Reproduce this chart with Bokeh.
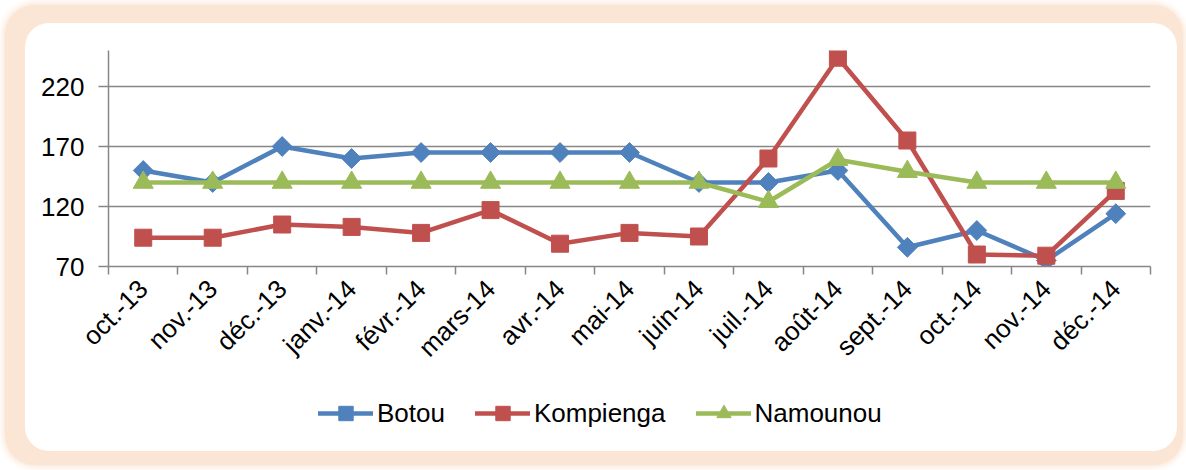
import numpy as np
from bokeh.plotting import figure
from bokeh.models import Range1d, FixedTicker, Legend, LegendItem
from bokeh.layouts import column
from bokeh.embed import file_html
from bokeh.resources import INLINE

months = ["oct.-13", "nov.-13", "déc.-13", "janv.-14", "févr.-14", "mars-14", "avr.-14",
          "mai-14", "juin-14", "juil.-14", "août-14", "sept.-14", "oct.-14", "nov.-14", "déc.-14"]
botou = [150, 140, 170, 160, 165, 165, 165, 165, 140, 140, 150, 86, 100, 75, 114]
kompienga = [94, 94, 105, 103, 98, 117, 89, 98, 95, 160, 244, 175, 80, 79, 133]
namounou = [140, 140, 140, 140, 140, 140, 140, 140, 140, 124, 159, 149, 140, 140, 140]
y_ticks = [70, 120, 170, 220]
y_min, y_max = 70, 250

xs = list(range(len(months)))
FONT = "Liberation Sans"
GRAY = "#868686"
FS = "26px"

series = [
    ("Botou", botou, "#4F81BD", "square", 14, np.pi / 4),
    ("Kompienga", kompienga, "#C0504D", "square", 17, 0),
    ("Namounou", namounou, "#9BBB59", "triangle", 20, 0),
]

# ---- main chart ----
p = figure(width=1152, height=360, output_backend="svg", toolbar_location=None,
           x_range=Range1d(-0.5, len(months) - 0.5), y_range=Range1d(y_min, y_max),
           min_border_left=83, min_border_right=27, min_border_top=27, min_border_bottom=117)
p.background_fill_color = None
p.border_fill_color = None
p.outline_line_color = None

p.xaxis.ticker = FixedTicker(ticks=xs, minor_ticks=[i - 0.5 for i in range(len(months) + 1)])
p.xaxis.major_label_overrides = {i: m for i, m in enumerate(months)}
p.xaxis.major_label_orientation = np.pi / 4
p.xaxis.major_tick_in = 0
p.xaxis.major_tick_out = 0
p.xaxis.minor_tick_in = 0
p.xaxis.minor_tick_out = 8
p.xaxis.minor_tick_line_color = GRAY
p.xaxis.minor_tick_line_width = 1.5
p.xaxis.major_label_standoff = 10

p.yaxis.ticker = FixedTicker(ticks=y_ticks)
p.yaxis.major_tick_in = 0
p.yaxis.major_tick_out = 10
p.yaxis.minor_tick_line_color = None
p.yaxis.major_tick_line_color = GRAY
p.yaxis.major_tick_line_width = 1.5
p.yaxis.major_label_standoff = 14

for ax in (p.xaxis, p.yaxis):
    ax.axis_line_color = GRAY
    ax.axis_line_width = 1.5
    ax.major_label_text_font = FONT
    ax.major_label_text_font_size = FS
    ax.major_label_text_color = "black"

p.xgrid.visible = False
p.ygrid.grid_line_color = GRAY
p.ygrid.grid_line_width = 1.5

for name, vals, col, mk, sz, ang in series:
    p.line(xs, vals, line_color=col, line_width=4.5, line_join="round", line_cap="round")
    p.scatter(xs, vals, marker=mk, size=sz, angle=ang, fill_color=col, line_color=col)

# ---- legend strip (same series, kept out of view; only the legend shows) ----
lf = figure(width=1152, height=68, output_backend="svg", toolbar_location=None,
            x_range=Range1d(1000, 1001), y_range=Range1d(1000, 1001),
            x_axis_type=None, y_axis_type=None,
            min_border_left=0, min_border_right=0, min_border_top=0, min_border_bottom=0)
lf.background_fill_color = None
lf.border_fill_color = None
lf.outline_line_color = None
lf.grid.visible = False
items = []
for name, vals, col, mk, sz, ang in series:
    l = lf.line(xs, vals, line_color=col, line_width=4.5, line_join="round", line_cap="round")
    s = lf.scatter(xs, vals, marker=mk, size=sz, angle=ang, fill_color=col, line_color=col)
    items.append(LegendItem(label=name, renderers=[l, s]))

legend = Legend(items=items, orientation="horizontal", location=(210, 20),
                label_text_font=FONT, label_text_font_size=FS, label_text_color="black",
                glyph_width=55, glyph_height=36, label_standoff=4, spacing=30,
                border_line_color=None, background_fill_alpha=0, margin=0, padding=0)
lf.add_layout(legend)

inner = column(p, lf, width=1152, height=428, spacing=0,
               styles={"background-color": "white", "border-radius": "24px"})
inner.margin = (18, 0, 0, 20)

layout = column(inner, width=1178, height=460,
                styles={"background-color": "#FBE5D4", "border-radius": "30px",
                        "box-shadow": "0 0 6px 2px #FBE5D4"})
layout.margin = (5, 0, 0, 5)

open("out.html", "w").write(file_html(layout, INLINE))
